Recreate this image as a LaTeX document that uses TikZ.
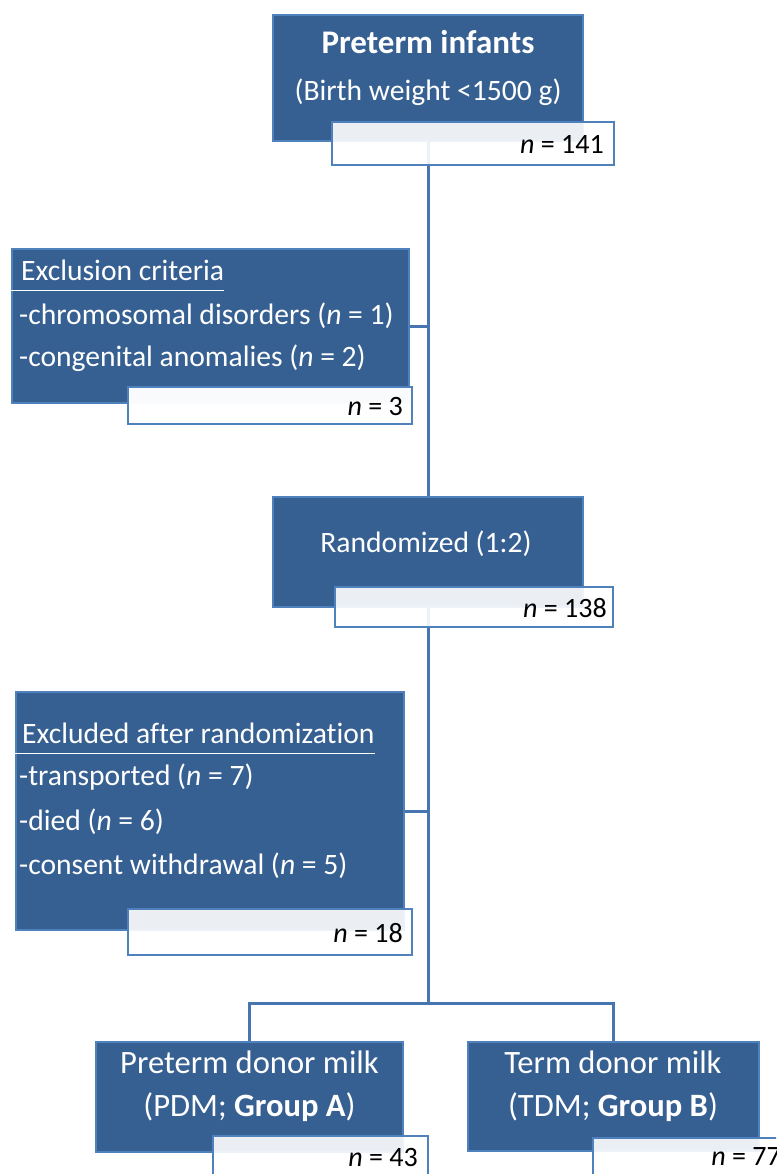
\documentclass[tikz,border=0pt]{standalone}
\usepackage{fontspec}
\setmainfont[Ligatures=NoCommon]{Carlito}
\usetikzlibrary{calc}
\definecolor{boxblue}{HTML}{376092}
\definecolor{edgeblue}{HTML}{4F81BD}
\definecolor{linkblue}{HTML}{4675B0}
\begin{document}
\begin{tikzpicture}[x=1pt,y=-1pt,
  bluebox/.style={draw=edgeblue,line width=1.2pt,fill=boxblue,inner sep=0pt,rectangle},
  nbox/.style={draw=edgeblue,line width=2.5pt,fill=white,fill opacity=0.9,draw opacity=1,inner sep=0pt,rectangle},
  txt/.style={text=white,inner sep=0pt,font=\fontsize{29.6}{35}\selectfont},
  bigtxt/.style={text=white,inner sep=0pt,font=\fontsize{32.6}{38}\selectfont},
  ntxt/.style={text=black,inner sep=0pt,anchor=east,font=\fontsize{28}{34}\selectfont},
  link/.style={draw=linkblue,line width=3pt},
  uline/.style={draw=white,line width=1.3pt}]
\useasboundingbox (0,0) rectangle (776,1174);
\clip (0,0) rectangle (776,1174);
% blue boxes
\node[bluebox,minimum width=310pt,minimum height=126pt] (inf) at (428,78) {};
\node[bluebox,minimum width=397pt,minimum height=154pt] (excl) at (210.5,326) {};
\node[bluebox,minimum width=310pt,minimum height=110pt] (rand) at (428,552) {};
\node[bluebox,minimum width=388pt,minimum height=238pt] (excl2) at (210,811) {};
\node[bluebox,minimum width=307pt,minimum height=110pt] (grpA) at (249.5,1097) {};
\node[bluebox,minimum width=291pt,minimum height=109pt] (grpB) at (613.5,1096.5) {};
% connectors
\coordinate (split) at (428,1003);
\draw[link] (inf.south) -- (rand.north);
\draw[link] (rand.south) -- (split);
\draw[link] (excl.east) -- (excl.east -| inf.south);
\draw[link] (excl2.east) -- (excl2.east -| rand.south);
\draw[link,line cap=rect] (grpA.north |- split) -- (grpB.north |- split);
\draw[link] (grpA.north |- split) -- (grpA.north);
\draw[link] (grpB.north |- split) -- (grpB.north);
% n boxes
\node[nbox,minimum width=282pt,minimum height=43pt] (n1) at (473,143.5) {};
\node[nbox,fill opacity=0.97,minimum width=284pt,minimum height=37pt] (n2) at (270,405.5) {};
\node[nbox,minimum width=278pt,minimum height=40pt] (n3) at (474,607) {};
\node[nbox,minimum width=284pt,minimum height=46pt] (n4) at (270,932) {};
\node[nbox,minimum width=215pt,minimum height=54pt] (nA) at (320.5,1163) {};
\node[nbox,minimum width=197pt,minimum height=52pt] (nB) at (691.5,1164) {};
% texts
\node[txt,font=\fontsize{33}{38}\selectfont\bfseries] (t1a) at (428,42) {Preterm infants};
\node[txt] (t1b) at (428,92) {(Birth weight <1500 g)};
\node[ntxt] (n1t) at (604,144) {\textit{n} = 141};

\node[txt,anchor=west] (hd1) at (21,270) {Exclusion criteria};
\draw[uline] ($(excl.west |- hd1.south)+(0,10)$) -- ($(hd1.south east)+(0,10)$);
\node[txt,anchor=west] (e1) at (19,316) {-chromosomal disorders (\textit{n} = 1)};
\node[txt,anchor=west] (e2) at (19,358) {-congenital anomalies (\textit{n} = 2)};
\node[ntxt] (n2t) at (403,407) {\textit{n} = 3};

\node[txt] (rt) at (426,544) {Randomized (1:2)};
\node[ntxt] (n3t) at (607,608) {\textit{n} = 138};

\node[txt,anchor=west] (hd2) at (22,733) {Excluded after randomization};
\draw[uline] ($(excl2.west |- hd2.south)+(0,10)$) -- ($(hd2.south east)+(0,10)$);
\node[txt,anchor=west] (x1) at (19,777) {-transported (\textit{n} = 7)};
\node[txt,anchor=west] (x2) at (19,822) {-died (\textit{n} = 6)};
\node[txt,anchor=west] (x3) at (19,866) {-consent withdrawal (\textit{n} = 5)};
\node[ntxt] (n4t) at (403,933) {\textit{n} = 18};

\node[bigtxt] (a1) at (249.5,1062) {Preterm donor milk};
\node[bigtxt] (a2) at (249.5,1107) {(PDM; \textbf{Group A})};
\node[ntxt] (nAt) at (418,1157) {\textit{n} = 43};
\node[bigtxt] (b1) at (613,1062) {Term donor milk};
\node[bigtxt] (b2) at (613,1107) {(TDM; \textbf{Group B})};
\node[ntxt] (nBt) at (781,1157) {\textit{n} = 77};
\end{tikzpicture}
\end{document}
